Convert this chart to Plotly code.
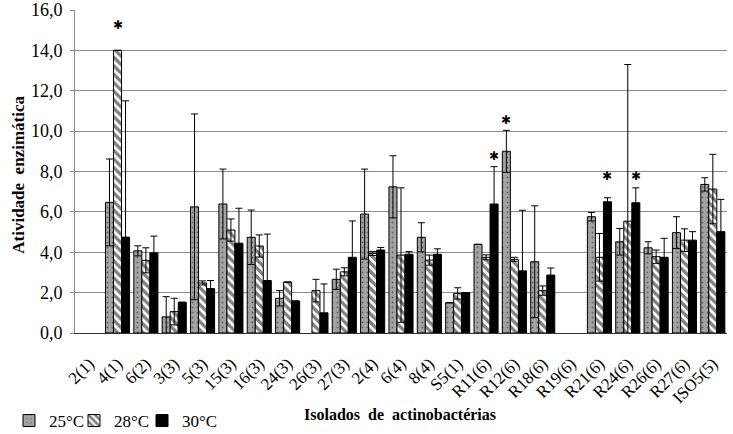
import plotly.graph_objects as go

categories = ["2(1)", "4(1)", "6(2)", "3(3)", "5(3)", "15(3)", "16(3)", "24(3)", "26(3)", "27(3)",
              "2(4)", "6(4)", "8(4)", "S5(1)", "R11(6)", "R12(6)", "R18(6)", "R19(6)", "R21(6)",
              "R24(6)", "R26(6)", "R27(6)", "ISO5(5)"]

v25 = [None, 6.47, 4.07, 0.80, 6.25, 6.39, 4.74, 1.72, None, 2.66, 5.89, 7.24, 4.74, 1.50,
       4.39, 9.00, 3.53, None, 5.76, 4.52, 4.22, 4.97, 7.36]
e25 = [0, 2.15, 0.25, 1.00, 4.60, 1.73, 1.35, 0.38, 0, 0.50, 2.23, 1.54, 0.72, 0,
       0, 1.04, 2.77, 0, 0.21, 0.66, 0.30, 0.79, 0.33]

v28 = [None, 14.0, 3.60, 1.06, 2.48, 5.10, 4.31, 2.52, 2.10, 3.03, 3.94, 3.86, 3.61, 1.96,
       3.75, 3.65, 2.10, None, 3.75, 5.54, 3.78, 4.60, 7.13]
e28 = [0, 0, 0.62, 0.66, 0.10, 0.55, 0.55, 0, 0.56, 0.20, 0.10, 3.33, 0.25, 0.28,
       0.12, 0.10, 0.23, 0, 1.18, 7.76, 0.33, 0.56, 1.72]

v30 = [None, 4.75, 3.97, 1.52, 2.20, 4.45, 2.60, 1.58, 1.00, 3.75, 4.11, 3.90, 3.90, 2.00,
       6.39, 3.08, 2.87, None, 6.50, 6.45, 3.75, 4.60, 5.02]
e30 = [0, 6.75, 0.83, 0, 0.40, 1.73, 2.30, 0, 1.43, 1.80, 0.13, 0.13, 0.27, 0,
       1.85, 3.00, 0.35, 0, 0.20, 0.74, 0.94, 0.42, 1.60]

# significance asterisks: (category, series index 0/1/2, height)
star_cat = ["4(1)", "R11(6)", "R12(6)", "R21(6)", "R24(6)"]
star_series = [1, 2, 0, 2, 2]
star_y = [15.25, 8.76, 10.54, 7.79, 7.79]

series_names = ["25°C", "28°C", "30°C"]

FONT = "Liberation Serif"
W, H = 733, 434
ML, MR, MT, MB = 75, 6, 10, 101
plot_w = W - ML - MR
plot_h = H - MT - MB
BARGAP = 0.15

err_style = dict(type="data", visible=True, color="black", thickness=1, width=3.5)
line = dict(color="black", width=1)

legend_left_px = [9, 74, 142]
legend_names = ["legend", "legend2", "legend3"]

fig = go.Figure()
fig.add_trace(go.Bar(
    x=categories, y=v25, name=series_names[0], legend=legend_names[0],
    error_y=dict(array=e25, **err_style),
    marker=dict(color="#a3a3a3", line=line,
                pattern=dict(shape=".", fgcolor="#222222", bgcolor="#a3a3a3", size=5, solidity=0.12)),
))
fig.add_trace(go.Bar(
    x=categories, y=v28, name=series_names[1], legend=legend_names[1],
    error_y=dict(array=e28, **err_style),
    marker=dict(color="white", line=line,
                pattern=dict(shape="\\", fgcolor="black", bgcolor="white", size=6, solidity=0.55)),
))
fig.add_trace(go.Bar(
    x=categories, y=v30, name=series_names[2], legend=legend_names[2],
    error_y=dict(array=e30, **err_style),
    marker=dict(color="black", line=line),
))

cat_w = plot_w / len(categories)
bar_w = cat_w * (1 - BARGAP) / 3
annotations = []
for c, s, yv in zip(star_cat, star_series, star_y):
    annotations.append(dict(
        x=c, y=yv, xref="x", yref="y", text="✱", showarrow=False,
        xshift=(s - 1) * bar_w, font=dict(family="DejaVu Sans", size=12, color="black"),
        xanchor="center", yanchor="middle"))

annotations.append(dict(
    x=(19 - ML) / plot_w, y=0.49, xref="paper", yref="paper",
    text="<b>Atividade  enzimática</b>", textangle=-90, showarrow=False,
    font=dict(family=FONT, size=17, color="black"), xanchor="center", yanchor="middle"))
annotations.append(dict(
    x=(400 - ML) / plot_w, y=(plot_h + MT - 414) / plot_h, xref="paper", yref="paper",
    text="<b>Isolados  de  actinobactérias</b>", showarrow=False,
    font=dict(family=FONT, size=16, color="black"), xanchor="center", yanchor="middle"))

legend_common = dict(orientation="h", xanchor="left", yanchor="middle",
                     xref="container", yref="container", y=1 - 421 / H,
                     font=dict(family=FONT, size=17, color="black"),
                     itemwidth=30, bgcolor="rgba(0,0,0,0)")

fig.update_layout(
    width=W, height=H,
    margin=dict(l=ML, r=MR, t=MT, b=MB),
    paper_bgcolor="white", plot_bgcolor="white",
    barmode="group", bargap=BARGAP, bargroupgap=0,
    separators=",.",
    font=dict(family=FONT, size=17, color="black"),
    showlegend=True,
    legend=dict(x=legend_left_px[0] / W, **legend_common),
    legend2=dict(x=legend_left_px[1] / W, **legend_common),
    legend3=dict(x=legend_left_px[2] / W, **legend_common),
    annotations=annotations,
)
fig.update_xaxes(type="category", tickangle=-45, showline=True, linecolor="#333333", linewidth=1,
                 ticks="", showgrid=False, automargin=False, ticklabelstandoff=13,
                 tickfont=dict(family=FONT, size=17, color="black"))
fig.update_yaxes(range=[0, 16], dtick=2, tickformat=".1f", showgrid=True, gridcolor="#8c8c8c",
                 gridwidth=1, showline=True, linecolor="#8c8c8c", linewidth=1, zeroline=False,
                 ticks="outside", ticklen=4, tickcolor="#8c8c8c", automargin=False,
                 ticklabelstandoff=4, tickfont=dict(family=FONT, size=18, color="black"))

fig.write_html("out.html", config={"displayModeBar": False},
               post_script="document.body.style.margin='0px';document.body.style.padding='0px';")
